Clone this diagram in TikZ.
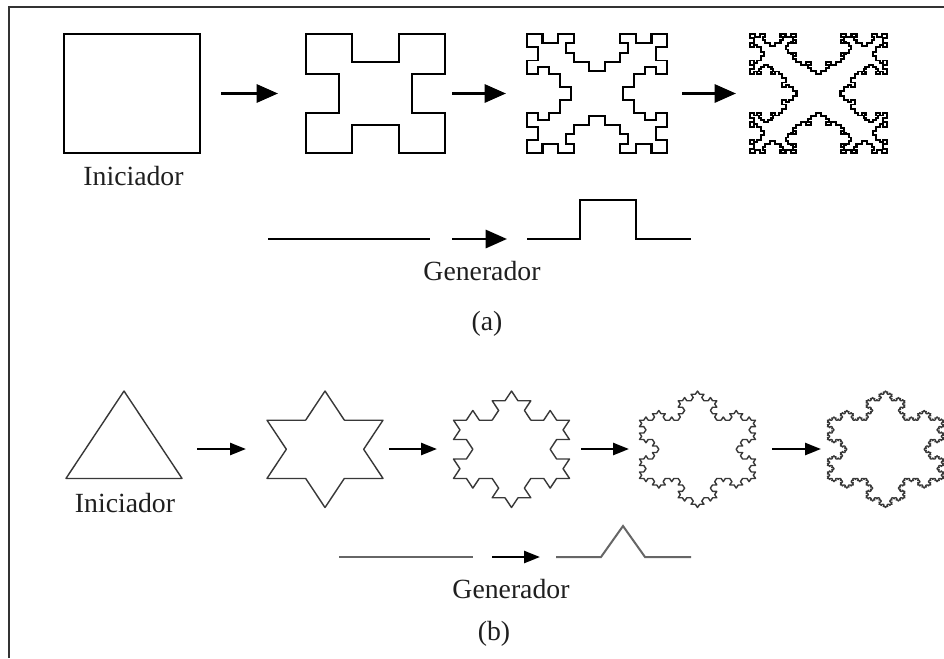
\documentclass[tikz,border=0pt]{standalone}
\usepackage{fontspec}
\setmainfont{Liberation Serif}
\usetikzlibrary{arrows.meta,lindenmayersystems}

% ---- quadratic Koch curve: coordinates built recursively into \qkpath ----
\newcommand\qkk{0.705}% 3 x depth of the bump (depth = 0.235 of the segment)
\gdef\qkpath{}
\newcommand\qkseg[5]{%
  \ifnum#1=0
    \xdef\qkpath{\qkpath -- (#4,#5)}%
  \else
    \begingroup
      \pgfmathsetmacro\qkTx{((#4)-(#2))/3}%
      \pgfmathsetmacro\qkTy{((#5)-(#3))/3}%
      \pgfmathsetmacro\qkNx{(\qkk)*(\qkTy)}%
      \pgfmathsetmacro\qkNy{-(\qkk)*(\qkTx)}%
      \pgfmathsetmacro\qkAx{(#2)+(\qkTx)}\pgfmathsetmacro\qkAy{(#3)+(\qkTy)}%
      \pgfmathsetmacro\qkBx{(\qkAx)+(\qkNx)}\pgfmathsetmacro\qkBy{(\qkAy)+(\qkNy)}%
      \pgfmathsetmacro\qkCx{(\qkBx)+(\qkTx)}\pgfmathsetmacro\qkCy{(\qkBy)+(\qkTy)}%
      \pgfmathsetmacro\qkDx{(#2)+2*(\qkTx)}\pgfmathsetmacro\qkDy{(#3)+2*(\qkTy)}%
      \edef\qknext{%
        \noexpand\qkseg{\the\numexpr#1-1\relax}{#2}{#3}{\qkAx}{\qkAy}%
        \noexpand\qkseg{\the\numexpr#1-1\relax}{\qkAx}{\qkAy}{\qkBx}{\qkBy}%
        \noexpand\qkseg{\the\numexpr#1-1\relax}{\qkBx}{\qkBy}{\qkCx}{\qkCy}%
        \noexpand\qkseg{\the\numexpr#1-1\relax}{\qkCx}{\qkCy}{\qkDx}{\qkDy}%
        \noexpand\qkseg{\the\numexpr#1-1\relax}{\qkDx}{\qkDy}{#4}{#5}}%
    \expandafter\endgroup\qknext
  \fi}
\newcommand\qkbuild[1]{%
  \gdef\qkpath{}%
  \qkseg{#1}{-64}{64}{64}{64}%
  \qkseg{#1}{64}{64}{64}{-64}%
  \qkseg{#1}{64}{-64}{-64}{-64}%
  \qkseg{#1}{-64}{-64}{-64}{64}}
\newcommand\qkdraw[1]{%
  \qkbuild{#1}%
  \edef\qkcmd{\noexpand\draw[qline] (-64,64) \qkpath -- cycle;}%
  \qkcmd}

\pgfdeclarelindenmayersystem{Koch flake}{\rule{F -> F+F--F+F}}

\tikzset{
  qline/.style={line width=1.5pt, line join=miter, draw=black},
  fline/.style={line width=1.1pt, line cap=round, line join=round, draw=black!78},
  genA/.style={line width=2.2pt, line join=miter, draw=black},
  genB/.style={line width=1.5pt, line join=miter, draw=black!60},
  arrA/.style={line width=2.2pt, draw=black, -{Triangle[length=16pt,width=13.5pt]}},
  arrB/.style={line width=1.9pt, draw=black, -{Triangle[length=12pt,width=9pt]}},
  figbox/.style 2 args={draw=none, inner sep=0pt, outer sep=0pt,
     minimum width=#1*0.75pt, minimum height=#2*0.75pt},
  lbl/.style={font=\fontsize{20.8}{24}\selectfont, text=black!88, inner sep=0pt, anchor=base},
  pframe/.style={line width=1.1pt, draw=black!80},
  flakecanvas/.style={transform canvas={shift={(#1.north)}, yscale=0.87, shift={(-58,100.46)}}},
}

\begin{document}
\begin{tikzpicture}[x=0.75pt, y=-0.75pt]
\fill[white, use as bounding box] (0,0) rectangle (944,658);
\draw[pframe] (9,658) -- (9,7) -- (944,7);

% ---------- (a) quadratic Koch ----------
\node[figbox={136}{119}] (a0) at (132,93.5) {};
\node[figbox={139}{119}] (a1) at (375.5,93.5) {};
\node[figbox={140}{119}] (a2) at (597,93.5) {};
\node[figbox={137}{119}] (a3) at (818.5,93.5) {};

\draw[qline] (a0.south west) rectangle (a0.north east);
\begin{scope}[transform canvas={shift={(a1.center)}, xscale=1.086, yscale=0.93}]
  \qkdraw{1}
\end{scope}
\begin{scope}[transform canvas={shift={(a2.center)}, xscale=1.094, yscale=0.93}]
  \qkdraw{2}
\end{scope}
\begin{scope}[transform canvas={shift={(a3.center)}, xscale=1.07, yscale=0.93}]
  \qkdraw{3}
\end{scope}

\draw[arrA, shorten <=15.75pt, shorten >=21pt] (a0) -- (a1);
\draw[arrA, shorten <=5.25pt, shorten >=15.75pt] (a1) -- (a2);
\draw[arrA, shorten <=11.25pt, shorten >=10.5pt] (a2) -- (a3);

\node[lbl] (iniA) at (133.5,185) {Iniciador};

\node[figbox={162}{0}] (gAin) at (349,239) {};
\node[figbox={164}{0}] (gAout) at (609,239) {};
\draw[genA] (gAin.west) -- (gAin.east);
\draw[genA] (gAout.west) -- (580,239) -- (580,200) -- (636,200) -- (636,239) -- (gAout.east);
\draw[arrA, shorten <=16.5pt, shorten >=15pt] (gAin) -- (gAout);
\node[lbl] (genAlbl) at (482,280) {Generador};
\node[lbl] (capA) at (487,330) {(a)};

% ---------- (b) Koch snowflake ----------
\node[figbox={116}{116}] (b0) at (124,449) {};
\node[figbox={114}{116}] (b1) at (325,449) {};
\node[figbox={117}{116}] (b2) at (511.5,449) {};
\node[figbox={117}{116}] (b3) at (697.5,449) {};
\node[figbox={117}{116}] (b4) at (885.5,449) {};

\begin{scope}[flakecanvas=b0]
  \draw[fline, l-system={Koch flake, axiom=+F--F--F, order=0, step=87pt, angle=60}] (0,0) lindenmayer system -- cycle;
\end{scope}
\begin{scope}[flakecanvas=b1]
  \draw[fline, l-system={Koch flake, axiom=+F--F--F, order=1, step=29pt, angle=60}] (0,0) lindenmayer system -- cycle;
\end{scope}
\begin{scope}[flakecanvas=b2]
  \draw[fline, l-system={Koch flake, axiom=+F--F--F, order=2, step=9.66667pt, angle=60}] (0,0) lindenmayer system -- cycle;
\end{scope}
\begin{scope}[flakecanvas=b3]
  \draw[fline, l-system={Koch flake, axiom=+F--F--F, order=3, step=3.22222pt, angle=60}] (0,0) lindenmayer system -- cycle;
\end{scope}
\begin{scope}[flakecanvas=b4]
  \draw[fline, l-system={Koch flake, axiom=+F--F--F, order=4, step=1.07407pt, angle=60}] (0,0) lindenmayer system -- cycle;
\end{scope}

\draw[arrB, shorten <=11.25pt, shorten >=16.5pt] (b0) -- (b1);
\draw[arrB, shorten <=5.25pt, shorten >=12pt] (b1) -- (b2);
\draw[arrB, shorten <=8.25pt, shorten >=7.5pt] (b2) -- (b3);
\draw[arrB, shorten <=12pt, shorten >=4.5pt] (b3) -- (b4);

\node[lbl] (iniB) at (125,512) {Iniciador};

\node[figbox={134}{0}] (gBin) at (406,557) {};
\node[figbox={135}{0}] (gBout) at (623.5,557) {};
\draw[genB] (gBin.west) -- (gBin.east);
\draw[genB] (gBout.west) -- (601,557) -- (623,526) -- (645,557) -- (gBout.east);
\draw[arrB, shorten <=14.25pt, shorten >=12pt] (gBin) -- (gBout);
\node[lbl] (genBlbl) at (511,598) {Generador};
\node[lbl] (capB) at (494,640) {(b)};
\end{tikzpicture}
\end{document}
